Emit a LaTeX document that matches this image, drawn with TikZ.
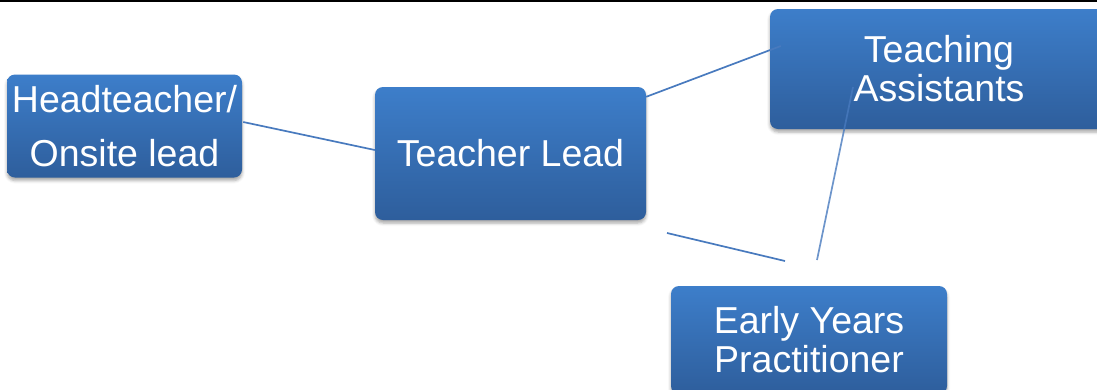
\documentclass[tikz,border=0pt]{standalone}
\usepackage{fontspec}
\setmainfont{Liberation Sans}
\usetikzlibrary{positioning,calc,shadows.blur}
\definecolor{boxtop}{RGB}{61,126,202}
\definecolor{boxbottom}{RGB}{46,94,156}
\definecolor{linkblue}{RGB}{72,122,190}

\begin{document}
\begin{tikzpicture}[x=1pt,y=-1pt,
  box/.style={rounded corners=8pt, top color=boxtop, bottom color=boxbottom, text=white,
    align=center, inner sep=0pt, font=\fontsize{37.5}{39}\selectfont,
    blur shadow={shadow xshift=0pt, shadow yshift=-3pt, shadow blur radius=3pt, shadow opacity=35}},
  link/.style={draw=linkblue, line width=1.7pt}]
\clip (0,0) rectangle (1097,389);
\fill[black] (0,0) rectangle (1097,1.5);

% the four roles
\node[box, minimum width=235, minimum height=103, font=\fontsize{37.5}{54}\selectfont] (head) at (124.5,126) {Headteacher/\\Onsite lead};
\node[box, minimum width=271, minimum height=133] (lead) at (510.5,153.5) {Teacher Lead};
\node[box, minimum width=338, minimum height=120] (ta) at (939,69) {Teaching\\Assistants};
\node[box, minimum width=276, minimum height=108] (eyp) at (809,340) {Early Years\\Practitioner};

% links
\draw[link] ($(head.east)+(1,-4)$) -- ($(lead.west)+(0,-3.5)$);
\draw[link] ($(lead.north east)+(0,10)$) -- ($(ta.west)+(11,-23)$);
\coordinate (gapA) at (667,233);
\coordinate (gapB) at (785,261);
\coordinate (gapC) at (817,260);
\coordinate (gapD) at (853,87);
\draw[link] (gapA) -- (gapB);
\draw[link, draw opacity=0.8] (gapC) -- (gapD);
\end{tikzpicture}
\end{document}
